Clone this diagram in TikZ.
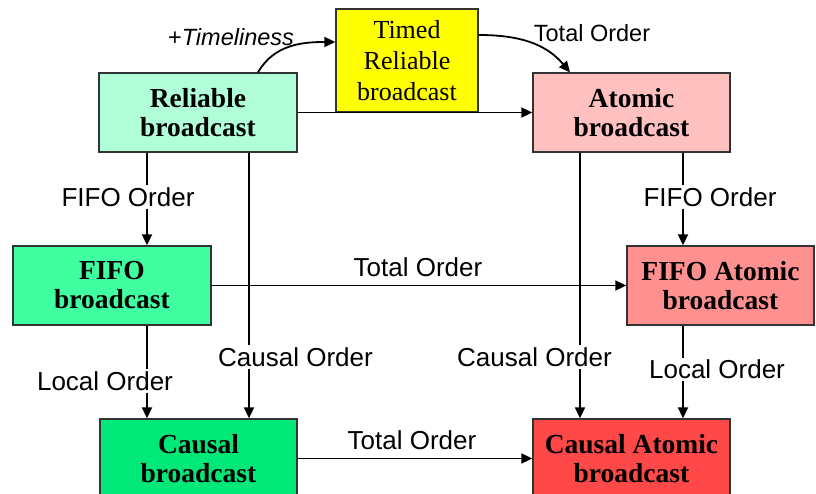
\documentclass[tikz,border=0pt]{standalone}
\usepackage{fontspec}
\setmainfont{Liberation Serif}
\setsansfont{Liberation Sans}
\usetikzlibrary{arrows.meta}

\definecolor{relcol}{HTML}{B0FFD8}
\definecolor{timedcol}{HTML}{FFFF00}
\definecolor{atomcol}{HTML}{FFC0C0}
\definecolor{fifocol}{HTML}{40FFA0}
\definecolor{fifoatomcol}{HTML}{FF9090}
\definecolor{causcol}{HTML}{00E878}
\definecolor{causatomcol}{HTML}{FF4848}

\begin{document}
\begin{tikzpicture}[x=1pt, y=-1pt, >={Triangle[length=11pt,width=10pt]}]
        \tikzstyle{bcast}=[rectangle, draw=black!80, line width=1.3pt, inner sep=0pt, minimum width=198pt, minimum height=79pt, align=center, font=\fontsize{27.5}{29}\selectfont\bfseries]
        \tikzstyle{arr}=[->, line width=1.8pt]
        \tikzstyle{lbl}=[fill=white, inner sep=2pt, font=\fontsize{26}{28}\sffamily]
        \tikzstyle{toplbl}=[inner sep=1pt, font=\fontsize{23.5}{25}\sffamily]

        \useasboundingbox (0,0) rectangle (816,494);

        \node[bcast, fill=relcol] (rel) at (198,112.5) {Reliable\\broadcast};
        \node[bcast, fill=timedcol, minimum width=142pt, minimum height=103pt, font=\fontsize{26}{31}\selectfont] (timed) at (407,60.5) {Timed\\Reliable\\broadcast};
        \node[bcast, fill=atomcol, minimum width=197pt] (atom) at (631.5,112.5) {Atomic\\broadcast};
        \node[bcast, fill=fifocol] (fifo) at (112,285.5) {FIFO\\broadcast};
        \node[bcast, fill=fifoatomcol, minimum width=187pt] (fifoatom) at (720.5,285.5) {FIFO Atomic\\broadcast};
        \node[bcast, fill=causcol, minimum width=197pt] (caus) at (198.5,458.5) {Causal\\broadcast};
        \node[bcast, fill=causatomcol, minimum width=197pt] (causatom) at (631.5,458.5) {Causal Atomic\\broadcast};

        % lanes for the vertical arrows
        \coordinate (laneA) at (147,0);
        \coordinate (laneB) at (249,0);
        \coordinate (laneC) at (580,0);
        \coordinate (laneD) at (683,0);

        \draw[arr] (rel.east) -- (atom.west);
        \draw[arr] (fifo.east) -- (fifoatom.west);
        \draw[arr] (caus.east) -- (causatom.west);
        \draw[arr] (rel.south -| laneA) -- (fifo.north -| laneA);
        \draw[arr] (fifo.south -| laneA) -- (caus.north -| laneA);
        \draw[arr] (rel.south -| laneB) -- (caus.north -| laneB);
        \draw[arr] (atom.south -| laneC) -- (causatom.north -| laneC);
        \draw[arr] (atom.south -| laneD) -- (fifoatom.north -| laneD);
        \draw[arr] (fifoatom.south -| laneD) -- (causatom.north -| laneD);
        \draw[arr] ([xshift=60pt]rel.north) to[out=60, in=180] ([yshift=18.5pt]timed.west);
        \draw[arr] ([yshift=25.5pt]timed.east) to[out=0, in=130] ([xshift=-61.5pt]atom.north);

        \node[toplbl] (lTime) at (231,37) {+\textit{Timeliness}};
        \node[toplbl] (lTotTop) at (592,33) {Total Order};
        \node[lbl] (lFifoL) at (128,197) {FIFO Order};
        \node[lbl] (lFifoR) at (710,197) {FIFO Order};
        \node[lbl] (lTotMid) at (418,267) {Total Order};
        \node[lbl] (lCausL) at (295.5,357) {Causal Order};
        \node[lbl] (lCausR) at (534.5,357) {Causal Order};
        \node[lbl] (lLocL) at (105,381) {Local Order};
        \node[lbl] (lLocR) at (717,369.5) {Local Order};
        \node[lbl] (lTotBot) at (412,440) {Total Order};
    \end{tikzpicture}
\end{document}
